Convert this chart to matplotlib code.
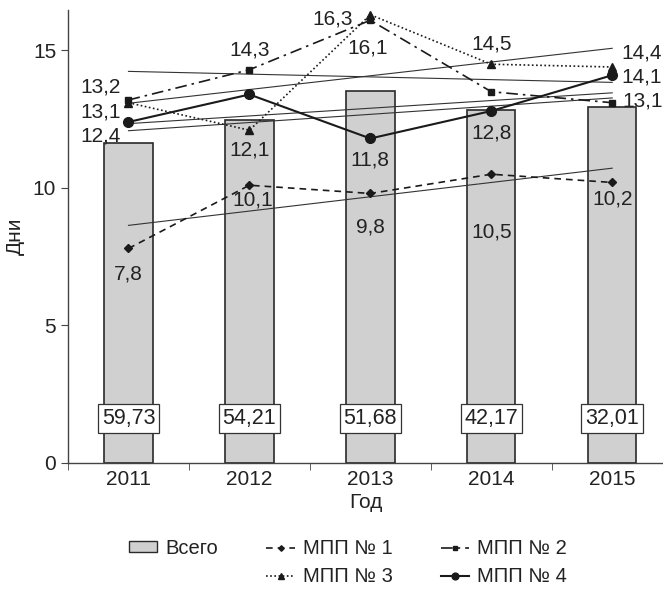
import numpy as np
import matplotlib
matplotlib.use('Agg')
import matplotlib.pyplot as plt
from matplotlib.patches import Patch

plt.rcParams['font.family'] = ['Liberation Sans', 'DejaVu Sans']

years = ['2011', '2012', '2013', '2014', '2015']
total_days = [11.63, 12.47, 13.52, 12.83, 12.94]
total_labels = ['59,73', '54,21', '51,68', '42,17', '32,01']
mpp1 = [7.8, 10.1, 9.8, 10.5, 10.2]
mpp2 = [13.2, 14.3, 16.1, 13.5, 13.1]
mpp3 = [13.1, 12.1, 16.3, 14.5, 14.4]
mpp4 = [12.4, 13.4, 11.8, 12.8, 14.1]

ink = '#1a1a1a'
text_c = '#222222'
x = np.arange(len(years))

fig = plt.figure(figsize=(6.63, 5.92), dpi=100)
ax = fig.add_axes([0.1026, 0.218, 0.8974, 0.765])

ax.bar(x, total_days, width=0.4, color='#d0d0d0', edgecolor='#2a2a2a', linewidth=1.2, zorder=1)

# linear trends for every series
for vals in [total_days, mpp1, mpp2, mpp3, mpp4]:
    k, b = np.polyfit(x, vals, 1)
    ax.plot(x[[0, -1]], k * x[[0, -1]] + b, color='#333333', lw=0.8, zorder=2)

series = [
    (mpp1, (0, (4, 3)), 'D', 4, 1.2, 'МПП № 1'),
    (mpp2, (0, (7, 3, 1.5, 3)), 's', 5, 1.2, 'МПП № 2'),
    (mpp3, (0, (1, 1.5)), '^', 5.5, 1.2, 'МПП № 3'),
    (mpp4, '-', 'o', 7, 1.5, 'МПП № 4'),
]
handles = {}
for vals, ls, mk, ms, lw, name in series:
    h, = ax.plot(x, vals, linestyle=ls, marker=mk, markersize=ms, color=ink,
                 lw=lw, label=name, zorder=3)
    handles[name] = h

# value labels (offsets in pixels); None where the value is not printed
offsets = {
    'mpp1': [(0, -26), (3, -15), (0, -34), (0, -58), (0, -17)],
    'mpp2': [(-28, 13), (0, 20), (-3, -28), None, (30, 2)],
    'mpp3': [(-28, -9), (0, -20), (-38, -4), (0, 20), (29, 14)],
    'mpp4': [(-28, -14), None, (0, -22), (0, -22), (29, -2)],
}
for key, vals in [('mpp1', mpp1), ('mpp2', mpp2), ('mpp3', mpp3), ('mpp4', mpp4)]:
    for i, v in enumerate(vals):
        off = offsets[key][i]
        if off is None:
            continue
        ax.annotate(f'{v:.1f}'.replace('.', ','), (x[i], v), xytext=off,
                    textcoords='offset pixels', ha='center', va='center',
                    fontsize=15, color=text_c, zorder=4)

for i, lab in enumerate(total_labels):
    ax.text(x[i], 1.61, lab, ha='center', va='center', fontsize=15.5, color=text_c,
            bbox=dict(boxstyle='square,pad=0.18', fc='white', ec='#333333', lw=0.9), zorder=5)

ax.set_xlim(-0.5, 4.42)
ax.set_ylim(0, 16.47)
ax.set_yticks([0, 5, 10, 15])
ax.set_xticks(x)
ax.set_xticklabels(years)
ax.set_xticks(np.arange(-0.5, 4.5, 1), minor=True)
ax.tick_params(axis='x', which='major', length=0, labelsize=15, pad=5, labelcolor=text_c)
ax.tick_params(axis='x', which='minor', length=5, color='#444444')
ax.tick_params(axis='y', length=5, labelsize=15, color='#444444', labelcolor=text_c)
for side in ['top', 'right']:
    ax.spines[side].set_visible(False)
for side in ['left', 'bottom']:
    ax.spines[side].set_color('#444444')
    ax.spines[side].set_linewidth(1.0)

ax.set_xlabel('Год', fontsize=15, color=text_c, labelpad=3)
ax.set_ylabel('Дни', fontsize=15, color=text_c, labelpad=6)

bar_handle = Patch(facecolor='#d0d0d0', edgecolor='#2a2a2a', lw=1.0)
blank = Patch(facecolor='none', edgecolor='none')
fig.legend([bar_handle, blank, handles['МПП № 1'], handles['МПП № 3'],
            handles['МПП № 2'], handles['МПП № 4']],
           ['Всего', '', 'МПП № 1', 'МПП № 3', 'МПП № 2', 'МПП № 4'],
           ncol=3, loc='center', bbox_to_anchor=(0.525, 0.05), frameon=False,
           fontsize=14.5, handlelength=1.4, handleheight=0.45, handletextpad=0.4,
           columnspacing=2.4, labelspacing=0.45, markerscale=0.7, labelcolor=text_c)

fig.savefig('out.png', dpi=100)
